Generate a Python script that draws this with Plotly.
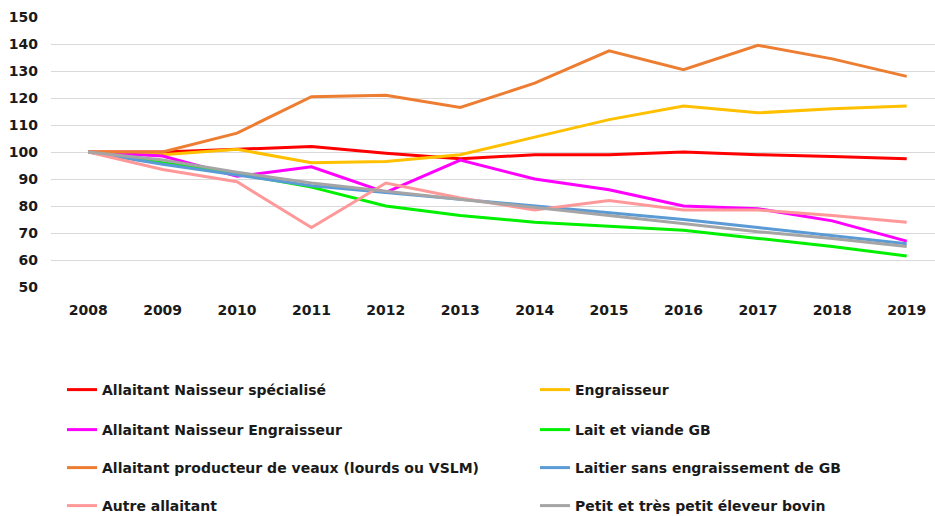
import plotly.graph_objects as go

years = ["2008", "2009", "2010", "2011", "2012", "2013", "2014", "2015", "2016", "2017", "2018", "2019"]

naisseur_specialise = [100, 100, 101, 102, 99.5, 97.5, 99, 99, 100, 99, 98.3, 97.5]
engraisseur = [100, 99, 101, 96, 96.5, 99, 105.5, 112, 117, 114.5, 116, 117]
naisseur_engraisseur = [100, 98.5, 91, 94.5, 85, 97, 90, 86, 80, 79, 74.5, 67]
lait_viande_gb = [100, 96, 92, 87, 80, 76.5, 74, 72.5, 71, 68, 65, 61.5]
producteur_veaux = [100, 100, 107, 120.5, 121, 116.5, 125.5, 137.5, 130.5, 139.5, 134.5, 128]
laitier_sans_engr = [100, 95.5, 91.5, 87.5, 85, 82.5, 80, 77.5, 75, 72, 69, 66]
autre_allaitant = [100, 93.5, 89, 72, 88.5, 83, 78.5, 82, 78.5, 78.5, 76.5, 74]
petit_eleveur = [100, 97, 92.5, 88.5, 85.5, 82.5, 79.5, 76.5, 73.5, 70.5, 68, 65]

y_ticks = [50, 60, 70, 80, 90, 100, 110, 120, 130, 140, 150]

series = [
    ("Allaitant Naisseur spécialisé", naisseur_specialise, "#FF0000"),
    ("Engraisseur", engraisseur, "#FFC000"),
    ("Allaitant Naisseur Engraisseur", naisseur_engraisseur, "#FF00FF"),
    ("Lait et viande GB", lait_viande_gb, "#00F000"),
    ("Allaitant producteur de veaux (lourds ou VSLM)", producteur_veaux, "#ED7D31"),
    ("Laitier sans engraissement de GB", laitier_sans_engr, "#5B9BD5"),
    ("Autre allaitant", autre_allaitant, "#FF9999"),
    ("Petit et très petit éleveur bovin", petit_eleveur, "#A5A5A5"),
]

plot_left, plot_top, plot_bottom = 51, 17, 287
plot_w = 935 - plot_left
plot_h = plot_bottom - plot_top
rows_px = [390, 430, 468, 506]
cols_px = [62, 535]

font_family = "DejaVu Sans"
fig = go.Figure()
legend_layouts = {}
for i, (name, vals, color) in enumerate(series):
    key = "legend" if i == 0 else f"legend{i + 1}"
    fig.add_trace(go.Scatter(x=years, y=vals, name=name, mode="lines",
                             line=dict(color=color, width=3), legend=key))
    row, col = i // 2, i % 2
    legend_layouts[key] = dict(
        x=(cols_px[col] - plot_left) / plot_w,
        y=(plot_bottom - rows_px[row]) / plot_h,
        xanchor="left", yanchor="middle", orientation="v",
        font=dict(family=font_family, size=14, color="#1a1a1a", weight="bold"),
        bgcolor="rgba(0,0,0,0)", borderwidth=0,
    )

fig.update_layout(
    width=935, height=516,
    margin=dict(l=plot_left, r=0, t=plot_top, b=516 - plot_bottom, autoexpand=False),
    plot_bgcolor="white", paper_bgcolor="white",
    showlegend=True,
    xaxis=dict(type="category", range=[-0.5, 11.38], showgrid=False, showline=False,
               ticks="", ticklabelstandoff=13, automargin=False,
               tickfont=dict(family=font_family, size=14, color="#1a1a1a", weight="bold")),
    yaxis=dict(range=[50, 150], tickvals=y_ticks, showgrid=True, gridcolor="#D9D9D9",
               gridwidth=1, zeroline=False, showline=False, ticks="", ticklabelstandoff=12,
               automargin=False,
               tickfont=dict(family=font_family, size=14, color="#1a1a1a", weight="bold")),
    **legend_layouts,
)

fig.write_html("out.html", config={"displayModeBar": False},
               post_script="document.body.style.margin='0';")
